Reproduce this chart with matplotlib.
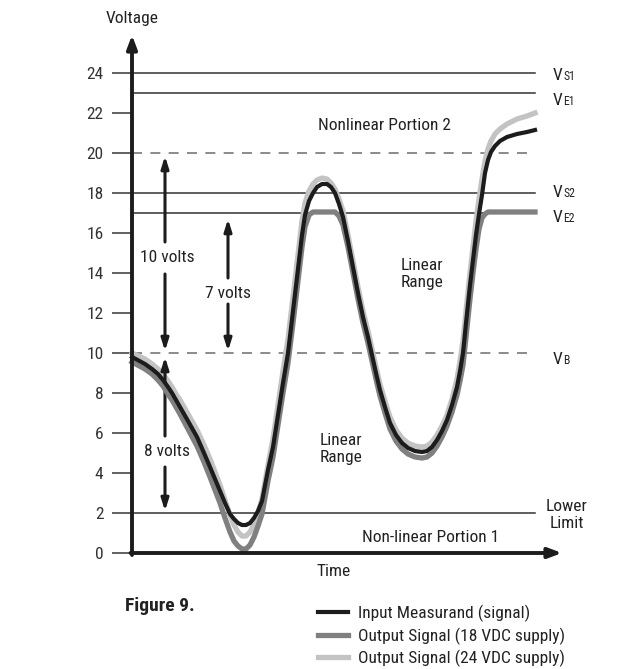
import matplotlib
matplotlib.use('Agg')
import matplotlib.pyplot as plt

plt.rcParams['font.family'] = ['Roboto Condensed', 'DejaVu Sans']

# 时间轴 (任意单位 0~403)，三条曲线共用
time = [0, 13, 20, 26, 31, 36, 40, 44, 48, 56, 65, 72, 78, 83, 88, 93, 98, 102, 106,
        110, 114, 118, 122, 126, 130, 136, 141, 146, 151, 156, 161, 166, 170, 173,
        177, 181, 185, 190, 195, 199, 203, 207, 211, 216, 221, 226, 231, 236, 240,
        244, 248, 253, 258, 264, 270, 276, 283, 290, 295, 300, 305, 310, 315, 320,
        325, 328, 331, 334, 338, 341, 344, 347, 350, 353, 356, 359, 363, 368, 375,
        385, 395, 403]

input_signal = [9.8, 9.45, 9.2, 8.95, 8.65, 8.3, 8.0, 7.65, 7.3, 6.6, 5.8, 5.0, 4.3,
                3.7, 3.1, 2.5, 1.95, 1.7, 1.5, 1.4, 1.4, 1.5, 1.75, 2.1, 2.6, 4.15,
                5.3, 6.9, 8.5, 10.0, 12.1, 14.2, 15.9, 16.9, 17.6, 18.0, 18.3, 18.45,
                18.45, 18.3, 18.0, 17.45, 16.8, 15.6, 14.3, 13.0, 11.8, 10.8, 9.9,
                9.0, 8.15, 7.3, 6.5, 5.9, 5.5, 5.25, 5.1, 5.05, 5.1, 5.3, 5.65, 6.1,
                6.65, 7.4, 8.3, 9.1, 10.0, 11.5, 13.4, 14.65, 15.9, 16.95, 17.9, 19.0,
                19.65, 20.05, 20.35, 20.6, 20.8, 20.95, 21.05, 21.15]

output_18v = [9.55, 9.2, 8.95, 8.65, 8.35, 7.95, 7.65, 7.3, 6.95, 6.2, 5.35, 4.55,
              3.8, 3.15, 2.5, 1.75, 1.05, 0.6, 0.35, 0.2, 0.2, 0.4, 0.8, 1.35, 1.95,
              3.6, 4.8, 6.4, 8.0, 9.5, 11.5, 13.6, 15.3, 16.3, 16.9, 17.05, 17.05,
              17.05, 17.05, 17.05, 17.05, 16.85, 16.4, 15.3, 14.0, 12.7, 11.5, 10.5,
              9.6, 8.7, 7.85, 7.0, 6.2, 5.6, 5.2, 4.95, 4.8, 4.75, 4.8, 5.0, 5.35,
              5.8, 6.35, 7.05, 7.9, 8.6, 9.4, 10.8, 12.7, 14.0, 15.2, 16.2, 16.75,
              16.95, 17.05, 17.05, 17.05, 17.05, 17.05, 17.05, 17.05, 17.05]

output_24v = [10.0, 9.7, 9.45, 9.2, 8.95, 8.6, 8.3, 7.95, 7.65, 6.95, 6.15, 5.4, 4.7,
              4.05, 3.4, 2.65, 1.9, 1.4, 1.05, 0.85, 0.85, 1.05, 1.45, 2.0, 2.7, 4.4,
              5.7, 7.4, 9.1, 10.7, 12.8, 14.9, 16.6, 17.5, 18.1, 18.45, 18.65, 18.75,
              18.7, 18.5, 18.2, 17.7, 17.1, 15.9, 14.6, 13.3, 12.1, 11.1, 10.2, 9.3,
              8.45, 7.6, 6.8, 6.15, 5.75, 5.5, 5.35, 5.3, 5.35, 5.55, 5.9, 6.35, 6.9,
              7.7, 8.7, 9.6, 10.6, 12.1, 14.0, 15.3, 16.6, 17.7, 18.7, 19.6, 20.2,
              20.6, 20.95, 21.2, 21.45, 21.7, 21.85, 22.0]

solid_levels = [24, 23, 18, 17, 2]
dashed_levels = [20, 10]
y_ticks = list(range(0, 25, 2))

fig = plt.figure(figsize=(6.34, 6.69), dpi=100)
ax = fig.add_axes([132 / 634, 116 / 669, 403 / 634, 480 / 669])
ax.set_xlim(0, 403)
ax.set_ylim(0, 24)
for s in ax.spines.values():
    s.set_visible(False)
ax.set_xticks([])
ax.set_yticks(y_ticks)
ax.tick_params(axis='y', length=14.5, width=1.3, color='#555555',
               labelsize=12.5, labelcolor='#333333', pad=6)

# 参考线
for v in solid_levels:
    ax.plot([0, 403], [v, v], color='#333333', lw=1.1, clip_on=False, zorder=1)
for v in dashed_levels:
    ax.plot([0, 403], [v, v], color='#777777', lw=1.2, dashes=(6, 5),
            clip_on=False, zorder=1)

# 曲线
l24, = ax.plot(time, output_24v, color='#c3c3c3', lw=3.8, zorder=3,
               solid_joinstyle='round', clip_on=False)
l18, = ax.plot(time, output_18v, color='#808080', lw=3.8, zorder=4,
               solid_joinstyle='round', clip_on=False)
lin, = ax.plot(time, input_signal, color='#1c1c1c', lw=3.0, zorder=5,
               solid_joinstyle='round', clip_on=False)

# 坐标轴箭头
axis_arrow = dict(arrowstyle='-|>,head_length=0.8,head_width=0.3', lw=2.8,
                  color='#1c1c1c', shrinkA=0, shrinkB=0)
ax.annotate('', xy=(0, 25.9), xytext=(0, -0.1), arrowprops=axis_arrow,
            annotation_clip=False, zorder=6)
ax.annotate('', xy=(430, 0), xytext=(-1.5, 0), arrowprops=axis_arrow,
            annotation_clip=False, zorder=6)

ax.text(0, 26.75, 'Voltage', ha='center', va='center', fontsize=12.5, color='#222222')
ax.text(202, -0.9, 'Time', ha='center', va='center', fontsize=12.5, color='#222222')

# 区域说明
ax.text(252, 21.35, 'Nonlinear Portion 2', ha='center', va='center', fontsize=12.5, color='#222222')
ax.text(290, 13.95, 'Linear\nRange', ha='center', va='center', fontsize=12.5,
        color='#222222', linespacing=1.15)
ax.text(209, 5.2, 'Linear\nRange', ha='center', va='center', fontsize=12.5,
        color='#222222', linespacing=1.15)
ax.text(299, 0.8, 'Non-linear Portion 1', ha='center', va='center', fontsize=12.5, color='#222222')

# 电压差箭头
span_arrow = dict(arrowstyle='-|>,head_length=0.7,head_width=0.22', lw=2.2,
                  color='#1c1c1c', shrinkA=0, shrinkB=0)
spans = [
    (33, 35, 14.75, '10 volts', 15.55, 19.85, 13.95, 10.1),
    (96, 96, 12.95, '7 volts', 13.75, 16.7, 12.45, 10.1),
    (33, 35, 5.05, '8 volts', 5.85, 9.8, 4.3, 2.1),
]
for x, xt, yt, label, up0, up1, dn0, dn1 in spans:
    ax.text(xt, yt, label, ha='center', va='center', fontsize=12.5, color='#222222')
    ax.annotate('', xy=(x, up1), xytext=(x, up0), arrowprops=span_arrow)
    ax.annotate('', xy=(x, dn1), xytext=(x, dn0), arrowprops=span_arrow)

# 右侧标注 (V + 小号下标, 同一基线)
right_labels = [(23.65, 'S1'), (22.4, 'E1'), (17.8, 'S2'), (16.55, 'E2'), (9.45, 'B')]
for v, sub in right_labels:
    ax.text(421, v, 'V', ha='left', va='baseline', fontsize=12.5, color='#222222')
    ax.annotate(sub, xy=(421, v), xytext=(7.3, 0), textcoords='offset points',
                ha='left', va='baseline', fontsize=8.5, color='#222222',
                annotation_clip=False)
ax.text(435, 1.9, 'Lower\nLimit', ha='center', va='center', fontsize=12.5,
        color='#222222', linespacing=1.15)

fig.text(125 / 634, 1 - 606 / 669, 'Figure 9.', ha='left', va='center',
         fontsize=14, fontweight='bold', color='#222222')

fig.legend([lin, l18, l24],
           ['Input Measurand (signal)', 'Output Signal (18 VDC supply)',
            'Output Signal (24 VDC supply)'],
           loc='upper left', bbox_to_anchor=(318 / 634, 1 - 605 / 669),
           frameon=False, fontsize=12.5, handlelength=1.75, handletextpad=0.55,
           labelspacing=0.3, borderpad=0, borderaxespad=0, labelcolor='#222222')

fig.savefig('out.png', dpi=100)
